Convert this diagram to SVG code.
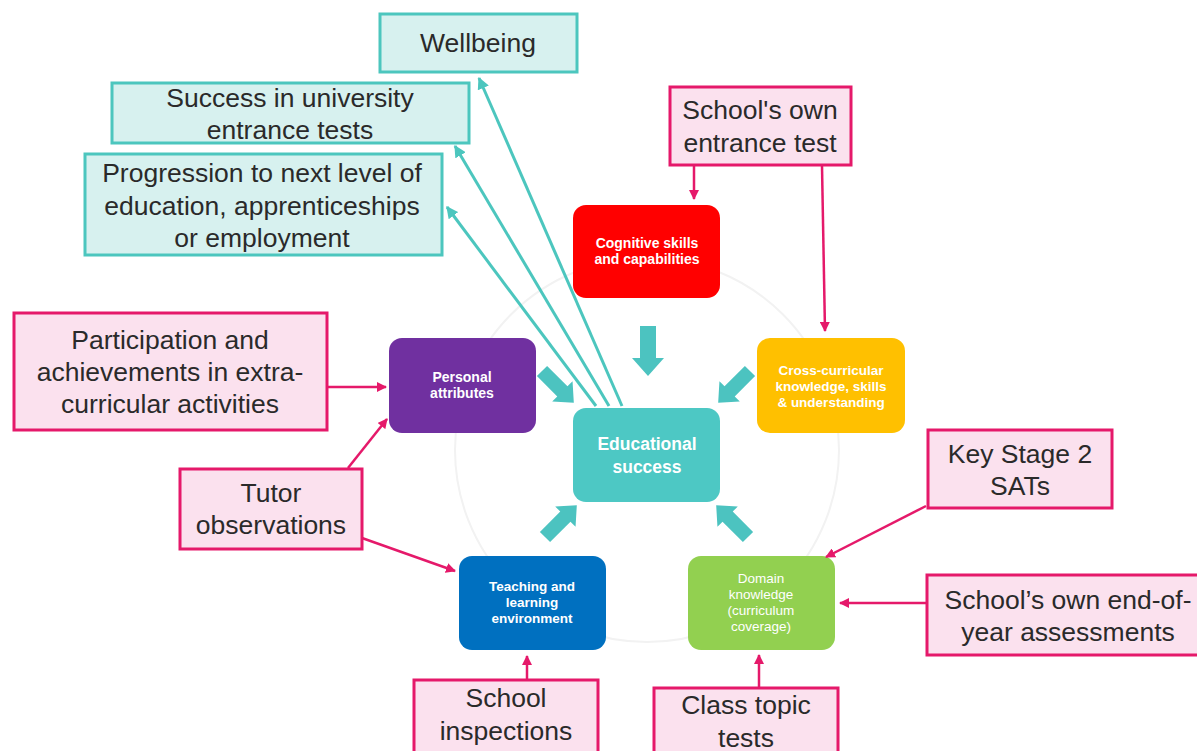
<svg xmlns="http://www.w3.org/2000/svg" width="1197" height="751" viewBox="0 0 1197 751">
<defs>
<style>
.tbox{fill:#d7f1ef;stroke:#4cc6be;stroke-width:3}
.pbox{fill:#fbe1ee;stroke:#e5196a;stroke-width:3}
.lbl{font-family:"Liberation Sans",Arial,sans-serif;font-size:26.5px;fill:#2a2a2a;text-anchor:middle}
.nlbl{font-family:"Liberation Sans",Arial,sans-serif;font-size:14px;font-weight:bold;fill:#ffffff;text-anchor:middle}
.tline{stroke:#4cc6be;stroke-width:3;fill:none;marker-end:url(#ta)}
.pline{stroke:#e5196a;stroke-width:2.5;fill:none;marker-end:url(#pa)}
.blk{fill:#4cc3c0}
</style>
<marker id="ta" viewBox="0 0 10 10" refX="9" refY="5" markerWidth="4" markerHeight="4" orient="auto" markerUnits="strokeWidth"><path d="M0,0 L10,5 L0,10 z" fill="#4cc6be"/></marker>
<marker id="pa" viewBox="0 0 10 10" refX="9" refY="5" markerWidth="4" markerHeight="4" orient="auto" markerUnits="strokeWidth"><path d="M0,0 L10,5 L0,10 z" fill="#e5196a"/></marker>
<path id="blockarrow" d="M-8,0 L8,0 L8,32 L16,32 L0,50 L-16,32 L-8,32 z"/>
</defs>
<rect width="1197" height="751" fill="#ffffff"/>
<circle cx="647" cy="450" r="192" fill="none" stroke="#f2f2f2" stroke-width="2"/>

<g id="block-arrows" class="blk">
<use href="#blockarrow" transform="translate(648,326)"/>
<use href="#blockarrow" transform="translate(542,371) rotate(-45) scale(0.9)"/>
<use href="#blockarrow" transform="translate(750,371) rotate(45) scale(0.9)"/>
<use href="#blockarrow" transform="translate(545,537) rotate(-135) scale(0.9)"/>
<use href="#blockarrow" transform="translate(748,537) rotate(135) scale(0.9)"/>
</g>

<g id="n-cognitive"><rect x="573" y="205" width="147" height="93" rx="13" fill="#ff0000"/>
<text class="nlbl"><tspan x="647" y="248">Cognitive skills</tspan><tspan x="647" y="264">and capabilities</tspan></text></g>
<g id="n-personal"><rect x="389" y="338" width="147" height="95" rx="13" fill="#7030a0"/>
<text class="nlbl"><tspan x="462" y="382">Personal</tspan><tspan x="462" y="398">attributes</tspan></text></g>
<g id="n-cross"><rect x="757" y="338" width="148" height="95" rx="13" fill="#ffc000"/>
<text class="nlbl" style="font-size:13.5px"><tspan x="831" y="375">Cross-curricular</tspan><tspan x="831" y="391">knowledge, skills</tspan><tspan x="831" y="407">&amp; understanding</tspan></text></g>
<g id="n-success"><rect x="573" y="408" width="147" height="94" rx="13" fill="#4dc8c4"/>
<text class="nlbl" style="font-size:17.5px"><tspan x="647" y="450">Educational</tspan><tspan x="647" y="473">success</tspan></text></g>
<g id="n-teaching"><rect x="459" y="556" width="147" height="94" rx="13" fill="#0070c0"/>
<text class="nlbl" style="font-size:13.5px"><tspan x="532" y="591">Teaching and</tspan><tspan x="532" y="607">learning</tspan><tspan x="532" y="623">environment</tspan></text></g>
<g id="n-domain"><rect x="688" y="556" width="147" height="94" rx="13" fill="#92d050"/>
<text class="nlbl" style="font-weight:normal;font-size:13.5px"><tspan x="761" y="583">Domain</tspan><tspan x="761" y="599">knowledge</tspan><tspan x="761" y="615">(curriculum</tspan><tspan x="761" y="631">coverage)</tspan></text></g>

<g id="connectors">
<line class="tline" x1="622" y1="406" x2="479" y2="78"/>
<line class="tline" x1="609" y1="406" x2="455" y2="146"/>
<line class="tline" x1="596" y1="406" x2="447" y2="207"/>
<line class="pline" x1="694" y1="166" x2="694" y2="199"/>
<line class="pline" x1="822" y1="166" x2="825" y2="331"/>
<line class="pline" x1="328" y1="387" x2="386" y2="387"/>
<line class="pline" x1="348" y1="468" x2="387" y2="419"/>
<line class="pline" x1="362" y1="538" x2="455" y2="571"/>
<line class="pline" x1="926" y1="506" x2="826" y2="557"/>
<line class="pline" x1="926" y1="603" x2="840" y2="603"/>
<line class="pline" x1="527" y1="680" x2="527" y2="656"/>
<line class="pline" x1="759" y1="688" x2="759" y2="655"/>
</g>

<g id="o-wellbeing"><rect class="tbox" x="380" y="14" width="197" height="58"/>
<text class="lbl" x="478" y="52">Wellbeing</text></g>
<g id="o-university"><rect class="tbox" x="112" y="83" width="357" height="60"/>
<text class="lbl"><tspan x="290" y="107">Success in university</tspan><tspan x="290" y="139">entrance tests</tspan></text></g>
<g id="o-progression"><rect class="tbox" x="85" y="154" width="357" height="101"/>
<text class="lbl"><tspan x="262" y="182">Progression to next level of</tspan><tspan x="262" y="215">education, apprenticeships</tspan><tspan x="262" y="247">or employment</tspan></text></g>

<g id="m-entrance"><rect class="pbox" x="670" y="87" width="181" height="78"/>
<text class="lbl"><tspan x="760" y="119">School's own</tspan><tspan x="760" y="152">entrance test</tspan></text></g>
<g id="m-participation"><rect class="pbox" x="14" y="313" width="313" height="117"/>
<text class="lbl"><tspan x="170" y="349">Participation and</tspan><tspan x="170" y="381">achievements in extra-</tspan><tspan x="170" y="413">curricular activities</tspan></text></g>
<g id="m-tutor"><rect class="pbox" x="180" y="469" width="182" height="80"/>
<text class="lbl"><tspan x="271" y="502">Tutor</tspan><tspan x="271" y="534">observations</tspan></text></g>
<g id="m-ks2"><rect class="pbox" x="928" y="430" width="184" height="78"/>
<text class="lbl"><tspan x="1020" y="463">Key Stage 2</tspan><tspan x="1020" y="495">SATs</tspan></text></g>
<g id="m-endofyear"><rect class="pbox" x="927" y="575" width="272" height="80"/>
<text class="lbl"><tspan x="1068" y="609">School’s own end-of-</tspan><tspan x="1068" y="641">year assessments</tspan></text></g>
<g id="m-inspections"><rect class="pbox" x="414" y="680" width="184" height="75"/>
<text class="lbl"><tspan x="506" y="707">School</tspan><tspan x="506" y="740">inspections</tspan></text></g>
<g id="m-topic"><rect class="pbox" x="654" y="688" width="184" height="67"/>
<text class="lbl"><tspan x="746" y="714">Class topic</tspan><tspan x="746" y="747">tests</tspan></text></g>
</svg>
